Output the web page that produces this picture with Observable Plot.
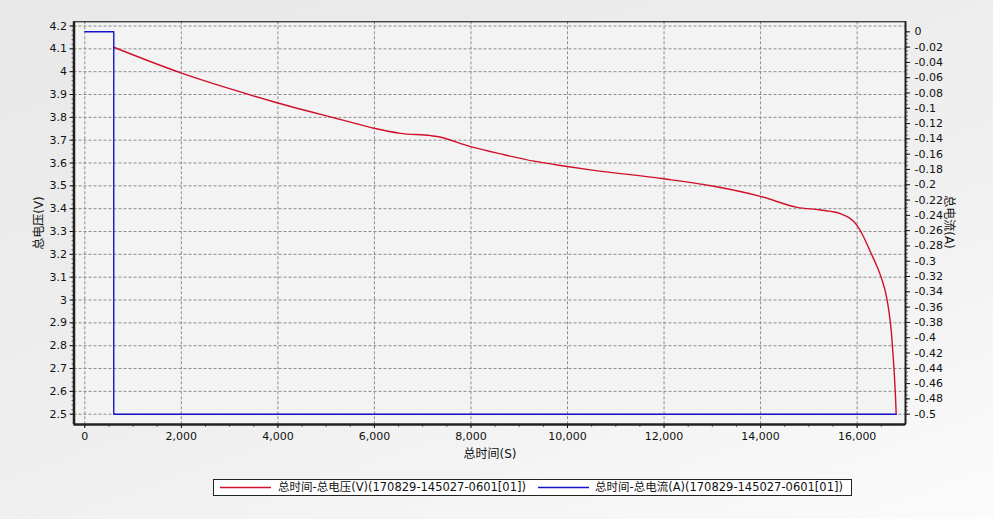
<!DOCTYPE html>
<html><head><meta charset="utf-8">
<script src="https://cdn.jsdelivr.net/npm/d3@7"></script>
<script src="https://cdn.jsdelivr.net/npm/@observablehq/plot@0.6"></script>
<style>
body{margin:0;}
#wrap{position:relative;width:993px;height:519px;overflow:hidden;
  background:linear-gradient(160deg,#e8e8e8 0%,#efefef 55%,#fbfbfb 100%);
  font-family:"DejaVu Sans","Noto Sans CJK SC",sans-serif;color:#111;}
#wrap svg{position:absolute;left:0;top:0;}
.title{position:absolute;font-size:12px;white-space:nowrap;}
#legend{position:absolute;left:213px;top:479px;width:637px;height:15px;border:1px solid #222;background:#fff;font-size:11.5px;}
#legend svg.sw{position:absolute;top:6px;}
#legend .tx{position:absolute;top:0px;white-space:nowrap;line-height:15px;}
</style></head>
<body>
<div id="wrap"></div>
<script>
// ---- data ----
const voltTime = [600,1989,3087,3978,5158,5505,5987,6540,7162,7300,7991,8613,9302,9994,10477,11995,13031,14013,14759,15241,15655,16001,16138,16277,16416,16520,16588,16656,16706,16747,16774,16795,16809];
const voltValue = [4.107,3.995,3.920,3.864,3.798,3.779,3.752,3.730,3.720,3.716,3.672,3.640,3.608,3.585,3.570,3.531,3.498,3.453,3.406,3.394,3.378,3.326,3.275,3.210,3.145,3.085,3.035,2.955,2.867,2.750,2.662,2.575,2.500];
const curTime = [0,600,600,16809];
const curValue = [0,0,-0.5,-0.5];
const timeTicks = [0,2000,4000,6000,8000,10000,12000,14000,16000];
const voltTicks = [2.5,2.6,2.7,2.8,2.9,3.0,3.1,3.2,3.3,3.4,3.5,3.6,3.7,3.8,3.9,4.0,4.1,4.2];
const curTicks = [0,-0.02,-0.04,-0.06,-0.08,-0.1,-0.12,-0.14,-0.16,-0.18,-0.2,-0.22,-0.24,-0.26,-0.28,-0.3,-0.32,-0.34,-0.36,-0.38,-0.4,-0.42,-0.44,-0.46,-0.48,-0.5];
const seriesNames = ["总时间-总电压(V)(170829-145027-0601[01])","总时间-总电流(A)(170829-145027-0601[01])"];
const axisTitles = {x:"总时间(S)", left:"总电压(V)", right:"总电流(A)"};

const voltage = voltTime.map((t,i)=>({t, v:voltValue[i]}));
const current = curTime.map((t,i)=>({t, a:curValue[i]}));
const timeMinor = d3.range(0,17000,500);
const voltMinor = d3.range(2.5,4.2001,0.02);
const curMinor = d3.range(-0.5,0.0001,0.005);

const W=993,H=460,mL=73.5,mR=88,mT=21.3,mB=36;
const xDom=[-224,17002];
const font = {background:"transparent",fontFamily:'"DejaVu Sans","Noto Sans CJK SC",sans-serif',fontSize:"11px",color:"#111",overflow:"visible"};
const RED="#d0102a", BLUE="#1414c8";

const p1 = Plot.plot({
  width:W,height:H,marginLeft:mL,marginRight:mR,marginTop:mT,marginBottom:mB,
  style:font,
  x:{domain:xDom,label:null},
  y:{domain:[2.4549,4.2184],label:null},
  marks:[
    Plot.frame({fill:"#f3f3f3",stroke:null}),
    Plot.gridY(voltTicks,{stroke:"#8c8c8c",strokeOpacity:1,strokeDasharray:"3,2"}),
    Plot.gridX(timeTicks,{stroke:"#8c8c8c",strokeOpacity:1,strokeDasharray:"3,2"}),
    Plot.axisY(voltMinor,{tickSize:2,tickFormat:()=>"",stroke:"#666"}),
    Plot.axisY(voltTicks,{tickSize:4,tickPadding:3,tickFormat:d=>String(+d.toFixed(1))}),
    Plot.axisX(timeMinor,{tickSize:3,tickFormat:()=>"",stroke:"#666"}),
    Plot.axisX(timeTicks,{tickSize:4,tickPadding:4,tickFormat:d3.format(",")}),
    Plot.line(voltage,{x:"t",y:"v",stroke:RED,strokeWidth:1.4,curve:"monotone-x"}),
    Plot.frame({stroke:"#000",strokeWidth:1}),
    Plot.ruleX([xDom[0]],{stroke:"#222",strokeWidth:2.5}),
    Plot.ruleY([2.4549],{stroke:"#222",strokeWidth:2.5})
  ]
});

const p2 = Plot.plot({
  width:W,height:H,marginLeft:mL,marginRight:mR,marginTop:mT,marginBottom:mB,
  style:font,
  x:{domain:xDom,axis:null,label:null},
  y:{domain:[-0.5135,0.0131],label:null},
  marks:[
    Plot.axisY(curMinor,{anchor:"right",tickSize:2,tickFormat:()=>"",stroke:"#666"}),
    Plot.axisY(curTicks,{anchor:"right",tickSize:4,tickPadding:5,tickFormat:d=>String(+d.toFixed(2))}),
    Plot.line(current,{x:"t",y:"a",stroke:BLUE,strokeWidth:1.4}),
    Plot.ruleX([xDom[1]],{stroke:"#222",strokeWidth:2})
  ]
});

const wrap=document.getElementById("wrap");
wrap.appendChild(p1);
wrap.appendChild(p2);

function addDiv(cls,text,style){const d=document.createElement("div");d.className=cls;d.textContent=text;Object.assign(d.style,style);wrap.appendChild(d);return d;}
addDiv("title",axisTitles.x,{left:"490px",top:"452px",transform:"translate(-50%,-50%)"});
addDiv("title",axisTitles.left,{left:"37px",top:"223px",transform:"translate(-50%,-50%) rotate(-90deg)"});
addDiv("title",axisTitles.right,{left:"950px",top:"222px",transform:"translate(-50%,-50%) rotate(90deg)"});

const leg=document.createElement("div");leg.id="legend";wrap.appendChild(leg);
const cols=[RED,BLUE], swx=[6,324], txx=[64,381];
const NS="http://www.w3.org/2000/svg";
seriesNames.forEach((n,i)=>{
  const s=document.createElementNS(NS,"svg");
  s.setAttribute("class","sw");s.setAttribute("width","51");s.setAttribute("height","3");
  s.style.left=swx[i]+"px";
  const ln=document.createElementNS(NS,"line");
  ln.setAttribute("x1","0");ln.setAttribute("x2","51");ln.setAttribute("y1","1.5");ln.setAttribute("y2","1.5");
  ln.setAttribute("stroke",cols[i]);ln.setAttribute("stroke-width","1.4");
  s.appendChild(ln);leg.appendChild(s);
  const t=document.createElement("div");t.className="tx";t.style.left=txx[i]+"px";t.textContent=n;leg.appendChild(t);
});
</script>
</body></html>
